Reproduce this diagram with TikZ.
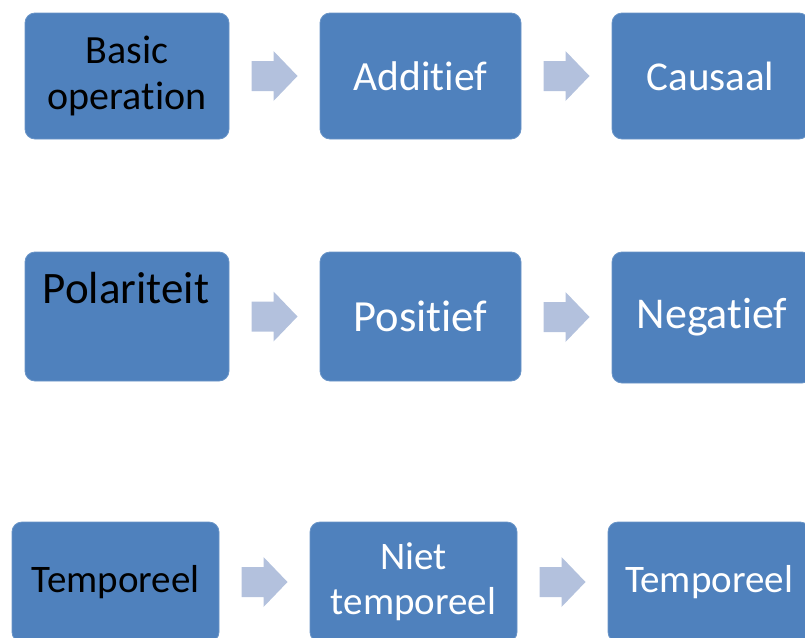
\documentclass[tikz,border=0pt]{standalone}
\usepackage{fontspec}
\setmainfont{Carlito}[Ligatures={NoCommon,NoContextual}]
\usetikzlibrary{calc}
\definecolor{boxblue}{HTML}{4F81BD}
\definecolor{arrowblue}{HTML}{B3C1DD}
\newcommand{\blockarr}[1]{%
  \fill[arrowblue] ([shift={(-23,-15)}]#1) -- ([shift={(-1,-15)}]#1) -- ([shift={(-1,-25)}]#1)
    -- ([shift={(23,0)}]#1) -- ([shift={(-1,25)}]#1) -- ([shift={(-1,15)}]#1)
    -- ([shift={(-23,15)}]#1) -- cycle;}
\begin{document}
\begin{tikzpicture}[x=1pt,y=-1pt,
  box/.style={fill=boxblue, draw=boxblue!85!white, line width=0.8pt, rounded corners=10pt,
    inner sep=0pt, align=center, text=white},
  dark/.style={text=black}]
\useasboundingbox (0,0) rectangle (805,637);
\clip (0,0) rectangle (805,637);
% row 1
\node[box, dark, minimum width=204pt, minimum height=126pt, font=\fontsize{40}{46}\selectfont] (a1) at (127,76) {Basic\\operation};
\node[box, minimum width=201pt, minimum height=126pt, font=\fontsize{41.5}{48}\selectfont] (a2) at (420.5,76) {Additief};
\node[box, minimum width=197pt, minimum height=126pt, font=\fontsize{41}{48}\selectfont] (a3) at (710.5,76) {Causaal};
% row 2
\node[box, minimum width=204pt, minimum height=129pt] (b1) at (127,316.5) {};
\node[text=black, inner sep=0pt, font=\fontsize{45}{52}\selectfont] (b1t) at (126,288) {Polariteit};
\node[box, minimum width=201pt, minimum height=129pt, font=\fontsize{44.5}{52}\selectfont] (b2) at (420.5,316.5) {Positief};
\node[box, minimum width=200pt, minimum height=131pt, font=\fontsize{44}{52}\selectfont] (b3) at (712,317.5) {Negatief};
% row 3
\node[box, dark, minimum width=207pt, minimum height=120pt, font=\fontsize{39}{46}\selectfont] (c1) at (115.5,582) {Temporeel};
\node[box, minimum width=207pt, minimum height=120pt, font=\fontsize{39}{45}\selectfont] (c2) at (413.5,582) {Niet\\temporeel};
\node[box, minimum width=202pt, minimum height=120pt, font=\fontsize{39}{46}\selectfont] (c3) at (709,582) {Temporeel};
% arrows
\coordinate (ma1) at ($(a1.east)!0.5!(a2.west)$);
\coordinate (ma2) at ($(a2.east)!0.5!(a3.west)$);
\coordinate (mb1) at ($(b1.east)!0.5!(b2.west)$);
\coordinate (mb2) at ($(b2.east)!0.5!(b3.west)$);
\coordinate (mc1) at ($(c1.east)!0.5!(c2.west)$);
\coordinate (mc2) at ($(c2.east)!0.5!(c3.west)$);
\blockarr{ma1}
\blockarr{ma2}
\blockarr{mb1}
\blockarr{mb2}
\blockarr{mc1}
\blockarr{mc2}
\end{tikzpicture}
\end{document}
